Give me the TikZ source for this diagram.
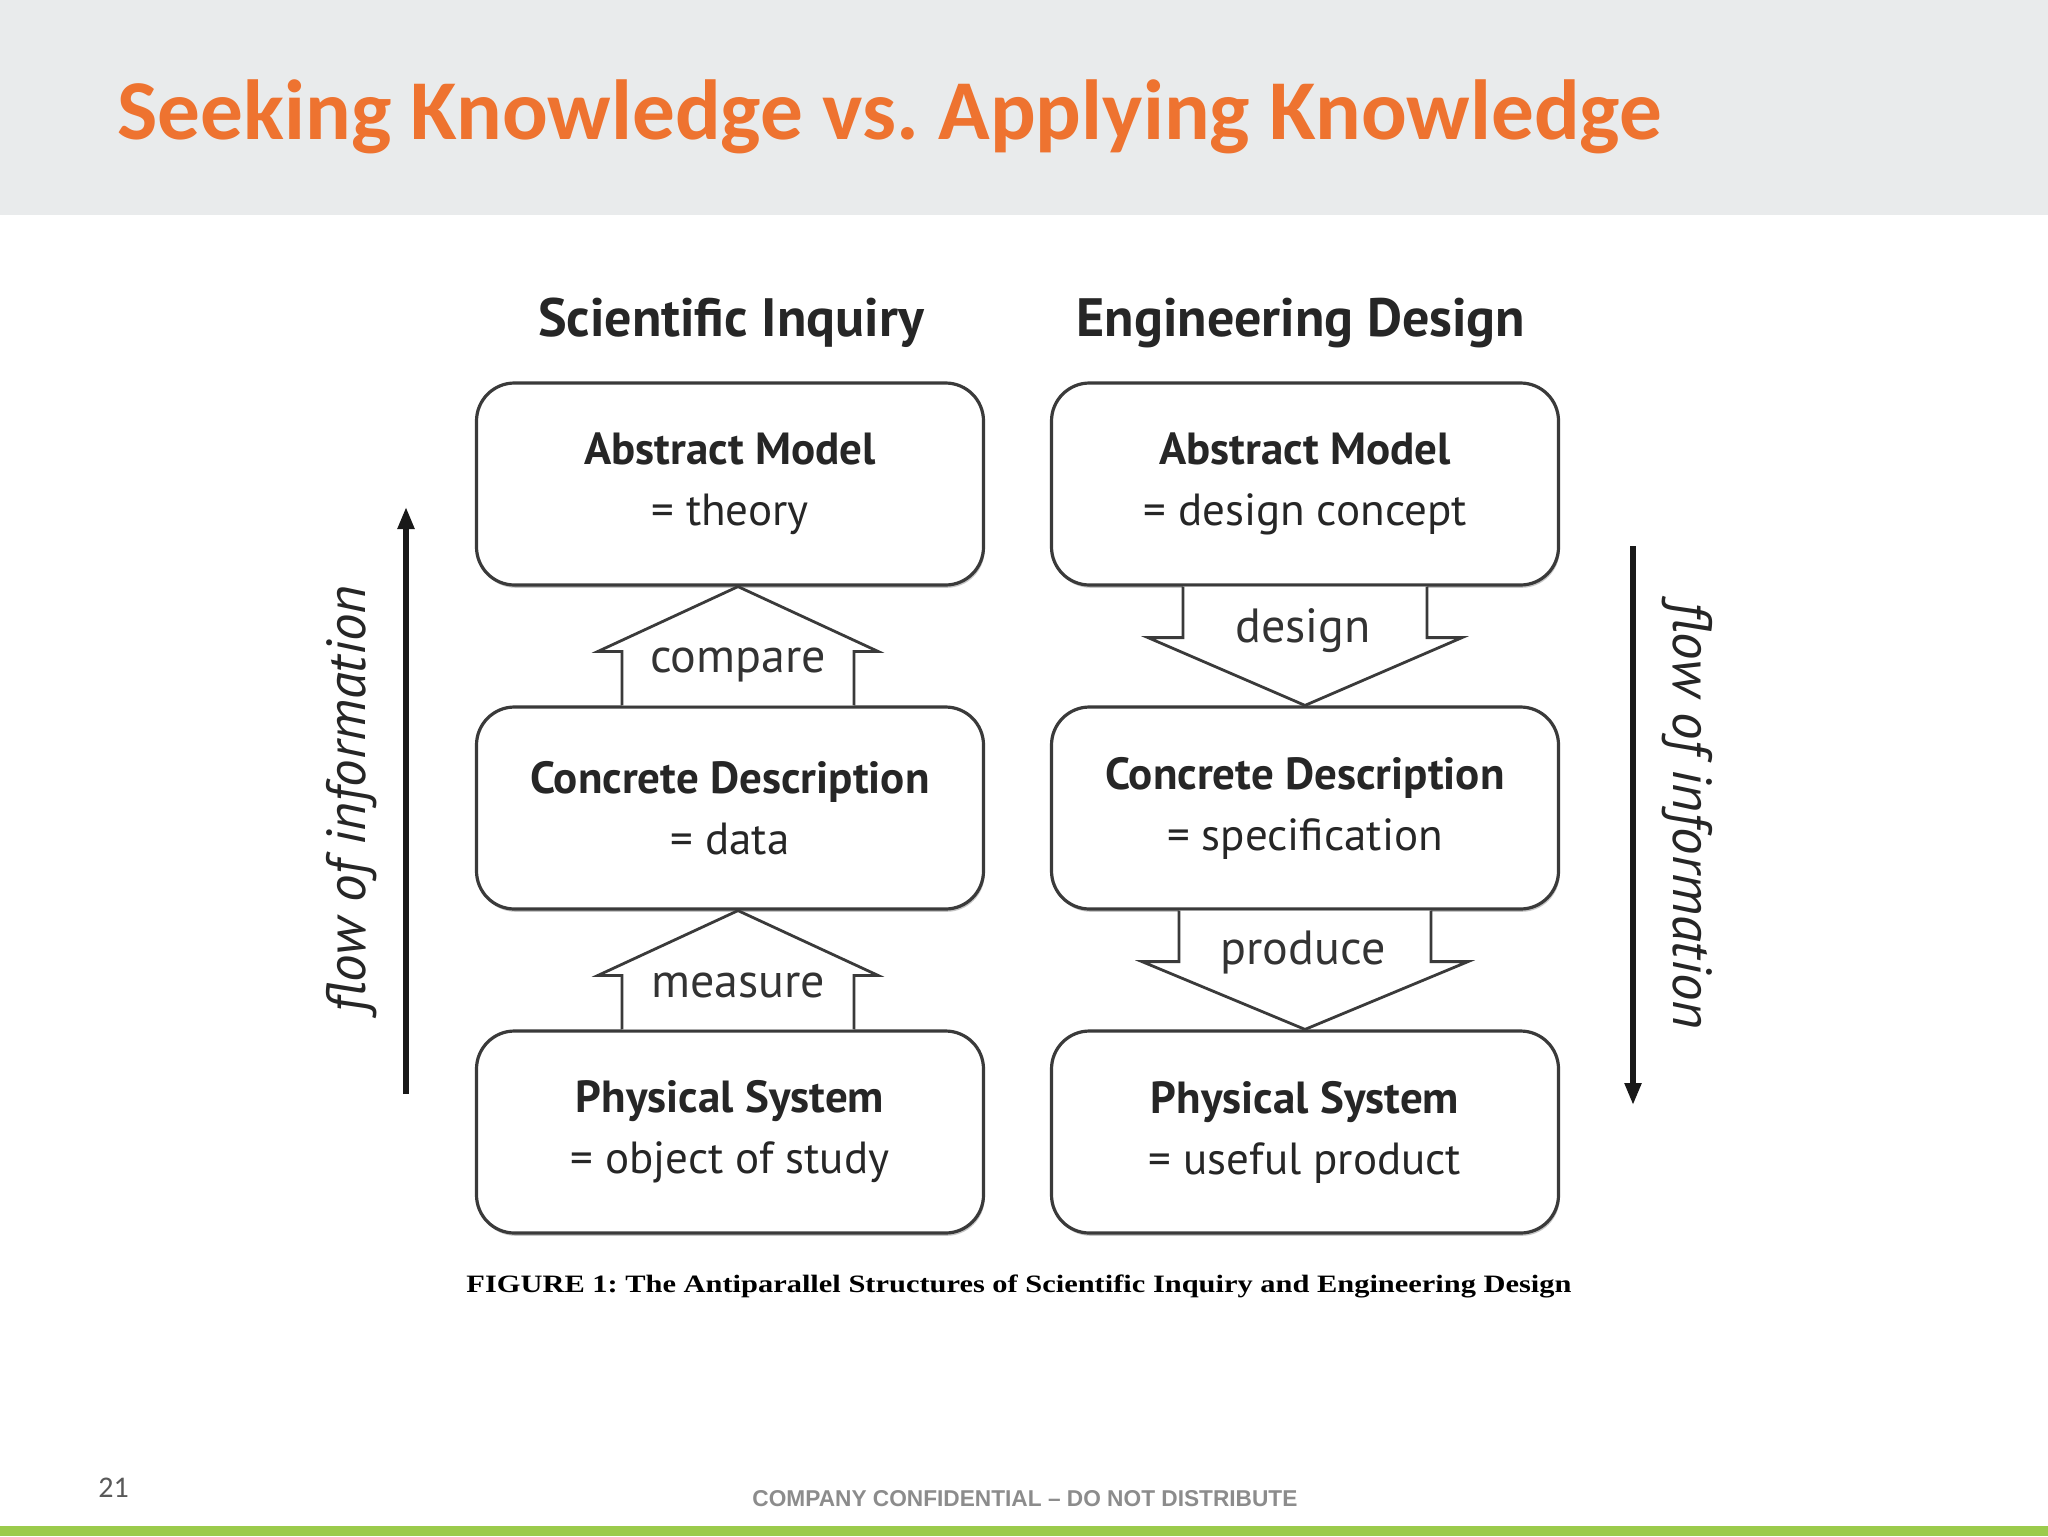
\documentclass[tikz,border=0pt]{standalone}
\usepackage{fontspec}
\usepackage{graphicx}
\setmainfont{PT Sans}
\newfontfamily\titlefont{Carlito}
\newfontfamily\capfont{Liberation Serif}
\newfontfamily\footfont{Liberation Sans}
\usetikzlibrary{arrows.meta,calc,shadows}
\definecolor{hdrgray}{HTML}{E9EBEC}
\definecolor{titleorange}{HTML}{EE7330}
\definecolor{greenbar}{HTML}{9BCB4C}
\definecolor{footgray}{HTML}{8C8C8C}
\definecolor{pagegray}{HTML}{595959}
\definecolor{ink}{HTML}{3A3A3A}
\tikzset{
  box/.style={draw=ink, line width=1.6pt, fill=white, rounded corners=19pt,
    minimum width=253.5pt, minimum height=101pt, align=center,
    font=\fontsize{22.5}{30.5}\selectfont, text=black!85,
    drop shadow={shadow xshift=0.6pt, shadow yshift=-1.4pt, opacity=0.45}},
  blockarrow/.style={draw=ink, line width=1.4pt, fill=white, line join=miter},
  arrowlabel/.style={font=\fontsize{24}{28}\selectfont, text=black!80},
  colhead/.style={font=\bfseries\fontsize{27}{32}\selectfont, text=black!85},
  flowarrow/.style={line width=2.6pt, draw=black!90, -{Triangle[length=11pt,width=8pt]}},
  flowtext/.style={font=\itshape\fontsize{27.5}{32}\selectfont, text=black!85}
}
\begin{document}
\frenchspacing
\begin{tikzpicture}[x=0.5pt,y=-0.5pt]
\useasboundingbox (0,0) rectangle (2048,1536);
\fill[white] (0,0) rectangle (2048,1536);
% header band
\fill[hdrgray] (0,0) rectangle (2048,215);
\node[anchor=base west, inner sep=0pt, text=titleorange] (title) at (117,140)
  {\resizebox{772pt}{!}{\titlefont\bfseries Seeking Knowledge vs. Applying Knowledge}};
% column headings
\node[colhead] (h1) at (731,323) {Scientific Inquiry};
\node[colhead] (h2) at (1301,323) {Engineering Design};
% boxes
\node[box] (am1) at (730,484) {\textbf{Abstract Model}\\= theory};
\node[box] (cd1) at (730,808) {\textbf{Concrete Description}\\= data};
\node[box] (ps1) at (730,1132) {\textbf{Physical System}\\= object of study};
\node[box] (am2) at (1305,484) {\textbf{Abstract Model}\\= design concept};
\node[box] (cd2) at (1305,808) {\textbf{Concrete Description}\\= specification};
\node[box] (ps2) at (1305,1132) {\textbf{Physical System}\\= useful product};
% up block arrows (scientific inquiry)
\draw[blockarrow] ($(cd1.north)+(-108,0)$) -- ++(0,-54) -- ++(-24,0) -- ($(am1.south)+(8,0)$)
  -- ($(cd1.north)+(148,-54)$) -- ++(-24,0) -- ++(0,54);
\draw[blockarrow] ($(ps1.north)+(-108,0)$) -- ++(0,-54) -- ++(-24,0) -- ($(cd1.south)+(8,0)$)
  -- ($(ps1.north)+(148,-54)$) -- ++(-24,0) -- ++(0,54);
\node[arrowlabel] (lcompare) at (738,665) {compare};
\node[arrowlabel] (lmeasure) at (738,985) {measure};
% down block arrows (engineering design)
\draw[blockarrow] ($(am2.south)+(-122,0)$) -- ++(0,51) -- ++(-35,0) -- (cd2.north)
  -- ($(am2.south)+(157,51)$) -- ++(-35,0) -- ++(0,-51);
\draw[blockarrow] ($(cd2.south)+(-126,0)$) -- ++(0,51) -- ++(-37,0) -- (ps2.north)
  -- ($(cd2.south)+(163,51)$) -- ++(-37,0) -- ++(0,-51);
\node[arrowlabel] (ldesign) at (1303,631) {design};
\node[arrowlabel] (lproduce) at (1303,952) {produce};
% flow of information arrows
\coordinate (f1s) at (406,1094);
\coordinate (f1e) at (406,507);
\coordinate (f2s) at (1633,546);
\coordinate (f2e) at (1633,1105);
\draw[flowarrow] (f1s) -- (f1e);
\draw[flowarrow] (f2s) -- (f2e);
\node[flowtext, rotate=90] (ft1) at (352,799) {flow of information};
\node[flowtext, rotate=-90] (ft2) at (1687,816) {flow of information};
% caption
\node[anchor=base, inner sep=0pt] (cap) at (1019,1292)
  {\resizebox{552.5pt}{8.8pt}{\capfont\bfseries FIGURE 1: The Antiparallel Structures of Scientific Inquiry and Engineering Design}};
% footer
\node[anchor=base west, inner sep=0pt, text=pagegray, font=\titlefont\fontsize{15}{18}\selectfont] (pg) at (98,1497) {21};
\node[anchor=base west, inner sep=0pt, text=footgray] (conf) at (752,1506)
  {\resizebox{272.5pt}{8pt}{\footfont\bfseries COMPANY CONFIDENTIAL – DO NOT DISTRIBUTE}};
\fill[greenbar] (0,1526) rectangle (2048,1536);
\end{tikzpicture}
\end{document}
